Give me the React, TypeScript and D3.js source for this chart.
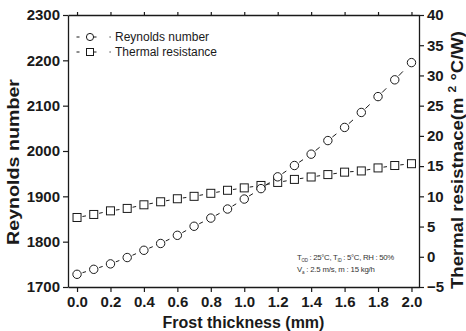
// @ts-nocheck
import React, { useEffect, useRef } from "react";
import * as d3 from "d3";

// frost thickness (mm)
const thickness = [0, 0.1, 0.2, 0.3, 0.4, 0.5, 0.6, 0.7, 0.8, 0.9, 1.0, 1.1, 1.2, 1.3, 1.4, 1.5, 1.6, 1.7, 1.8, 1.9, 2.0];
const reynolds = [1728, 1739, 1751, 1765, 1781, 1796, 1814, 1834, 1852, 1872, 1894, 1917, 1943, 1968, 1993, 2023, 2052, 2085, 2120, 2157, 2195];
const thermalRes = [6.5, 7.0, 7.6, 8.0, 8.6, 9.1, 9.6, 10.0, 10.5, 11.0, 11.4, 11.8, 12.3, 12.8, 13.2, 13.6, 14.0, 14.2, 14.7, 15.1, 15.4];

const xTicks = [0, 0.2, 0.4, 0.6, 0.8, 1.0, 1.2, 1.4, 1.6, 1.8, 2.0];
const xMinorTicks = [0.1, 0.3, 0.5, 0.7, 0.9, 1.1, 1.3, 1.5, 1.7, 1.9];
const leftTicks = [1700, 1800, 1900, 2000, 2100, 2200, 2300];
const leftMinorTicks = [1750, 1850, 1950, 2050, 2150, 2250];
const rightTicks = [-5, 0, 5, 10, 15, 20, 25, 30, 35, 40];
const rightMinorTicks = [-2.5, 2.5, 7.5, 12.5, 17.5, 22.5, 27.5, 32.5, 37.5];

const legendLabels = ["Reynolds number", "Thermal resistance"];

const FONT = "'Liberation Sans', Arial, sans-serif";
const INK = "#1a1a1a";

const Chart = () => {
  const ref = useRef(null);

  useEffect(() => {
    const svg = d3.select(ref.current);
    svg.selectAll("*").remove();

    const left = 68, right = 419, top = 15, bottom = 287;

    const x = d3.scaleLinear().domain([-0.054, 2.045]).range([left, right]);
    const yL = d3.scaleLinear().domain([1700, 2300]).range([bottom, top]);
    const yR = d3.scaleLinear().domain([-5, 40]).range([bottom, top]);

    const styleAxis = (g, size) => {
      g.select(".domain").attr("stroke", INK).attr("stroke-width", 1.3);
      g.selectAll(".tick line").attr("stroke", INK).attr("stroke-width", 1.2);
      g.selectAll(".tick text")
        .attr("fill", INK)
        .attr("font-family", FONT)
        .attr("font-weight", "bold")
        .attr("font-size", size);
    };

    // bottom axis
    const gb = svg.append("g").attr("transform", `translate(0,${bottom})`);
    gb.call(d3.axisBottom(x).tickValues(xMinorTicks).tickSize(3).tickSizeOuter(0).tickFormat(() => ""));
    gb.call(
      d3.axisBottom(x).tickValues(xTicks).tickSize(5).tickSizeOuter(0).tickPadding(4).tickFormat(d3.format(".1f"))
    );
    styleAxis(gb, 15);

    // top axis (ticks only)
    const gt = svg.append("g").attr("transform", `translate(0,${top})`);
    gt.call(d3.axisTop(x).tickValues(xMinorTicks).tickSize(2).tickSizeOuter(0).tickFormat(() => ""));
    gt.call(d3.axisTop(x).tickValues(xTicks).tickSize(3).tickSizeOuter(0).tickFormat(() => ""));
    styleAxis(gt, 15);

    // left axis
    const gl = svg.append("g").attr("transform", `translate(${left},0)`);
    gl.call(d3.axisLeft(yL).tickValues(leftMinorTicks).tickSize(3).tickSizeOuter(0).tickFormat(() => ""));
    gl.call(d3.axisLeft(yL).tickValues(leftTicks).tickSize(5).tickSizeOuter(0).tickPadding(3).tickFormat(d3.format("d")));
    styleAxis(gl, 15);

    // right axis
    const gr = svg.append("g").attr("transform", `translate(${right},0)`);
    gr.call(d3.axisRight(yR).tickValues(rightMinorTicks).tickSize(3).tickSizeOuter(0).tickFormat(() => ""));
    gr.call(d3.axisRight(yR).tickValues(rightTicks).tickSize(5).tickSizeOuter(0).tickPadding(3).tickFormat(d3.format("d")));
    styleAxis(gr, 15);

    // short dashes between neighbouring markers
    const drawDashes = (pts, r) => {
      for (let i = 0; i < pts.length - 1; i++) {
        const [x1, y1] = pts[i];
        const [x2, y2] = pts[i + 1];
        const len = Math.hypot(x2 - x1, y2 - y1);
        const gap = len - 2 * r;
        if (gap <= 2) continue;
        const dash = Math.max(2.5, Math.min(6, gap * 0.4));
        const s = r + 1.5;
        const e = Math.min(s + dash, len - r - 0.5);
        const ux = (x2 - x1) / len, uy = (y2 - y1) / len;
        svg
          .append("line")
          .attr("x1", x1 + ux * s)
          .attr("y1", y1 + uy * s)
          .attr("x2", x1 + ux * e)
          .attr("y2", y1 + uy * e)
          .attr("stroke", INK)
          .attr("stroke-width", 1);
      }
    };

    const rePts = thickness.map((t, i) => [x(t), yL(reynolds[i])]);
    const trPts = thickness.map((t, i) => [x(t), yR(thermalRes[i])]);
    drawDashes(trPts, 4);
    drawDashes(rePts, 4.2);

    svg
      .append("g")
      .selectAll("rect")
      .data(trPts)
      .join("rect")
      .attr("x", (d) => d[0] - 4)
      .attr("y", (d) => d[1] - 4)
      .attr("width", 8)
      .attr("height", 8)
      .attr("fill", "white")
      .attr("stroke", INK)
      .attr("stroke-width", 1);

    svg
      .append("g")
      .selectAll("circle")
      .data(rePts)
      .join("circle")
      .attr("cx", (d) => d[0])
      .attr("cy", (d) => d[1])
      .attr("r", 4.2)
      .attr("fill", "white")
      .attr("stroke", INK)
      .attr("stroke-width", 1);

    // legend
    const lg = svg.append("g");
    legendLabels.forEach((label, i) => {
      const cy = 37 + i * 15;
      const row = lg.append("g");
      row.append("line").attr("x1", 76.5).attr("x2", 79.5).attr("y1", cy).attr("y2", cy).attr("stroke", INK);
      row.append("line").attr("x1", 93.5).attr("x2", 96.5).attr("y1", cy).attr("y2", cy).attr("stroke", INK);
      row.append("line").attr("x1", 109.5).attr("x2", 110.7).attr("y1", cy).attr("y2", cy).attr("stroke", INK);
      if (i === 0) {
        row.append("circle").attr("cx", 90).attr("cy", cy).attr("r", 3.6).attr("fill", "white").attr("stroke", INK);
      } else {
        row.append("rect").attr("x", 86.5).attr("y", cy - 3.5).attr("width", 7).attr("height", 7).attr("fill", "white").attr("stroke", INK);
      }
      row
        .append("text")
        .attr("x", 115)
        .attr("y", cy + 4.3)
        .attr("font-family", FONT)
        .attr("font-size", 12)
        .attr("fill", INK)
        .text(label);
    });

    // axis titles
    svg
      .append("text")
      .attr("x", (left + right) / 2)
      .attr("y", 328)
      .attr("text-anchor", "middle")
      .attr("font-family", FONT)
      .attr("font-weight", "bold")
      .attr("font-size", 16)
      .attr("fill", INK)
      .text("Frost thickness (mm)");

    svg
      .append("text")
      .attr("transform", "translate(19,162) rotate(-90)")
      .attr("text-anchor", "middle")
      .attr("font-family", FONT)
      .attr("font-weight", "bold")
      .attr("font-size", 17)
      .attr("textLength", 166)
      .attr("lengthAdjust", "spacingAndGlyphs")
      .attr("fill", INK)
      .text("Reynolds number");

    const rt = svg
      .append("text")
      .attr("transform", "translate(463,160) rotate(-90)")
      .attr("text-anchor", "middle")
      .attr("font-family", FONT)
      .attr("font-weight", "bold")
      .attr("font-size", 17)
      .attr("textLength", 258)
      .attr("lengthAdjust", "spacingAndGlyphs")
      .attr("fill", INK);
    rt.append("tspan").text("Thermal resistnace(m ");
    rt.append("tspan").attr("dy", -7).attr("font-size", 11).text("2");
    rt.append("tspan").attr("dy", 7).text(" °C/W)");

    // condition note
    const note1 = svg
      .append("text")
      .attr("x", 297)
      .attr("y", 260)
      .attr("font-family", FONT)
      .attr("font-size", 7.8)
      .attr("letter-spacing", -0.3)
      .attr("fill", "#333");
    note1.append("tspan").text("T");
    note1.append("tspan").attr("dy", 2).attr("font-size", 4.5).text("OD");
    note1.append("tspan").attr("dy", -2).text(" : 25°C, T");
    note1.append("tspan").attr("dy", 2).attr("font-size", 4.5).text("ID");
    note1.append("tspan").attr("dy", -2).text(" : 5°C, RH : 50%");

    const note2 = svg
      .append("text")
      .attr("x", 297)
      .attr("y", 272)
      .attr("font-family", FONT)
      .attr("font-size", 7.8)
      .attr("letter-spacing", -0.2)
      .attr("fill", "#333");
    note2.append("tspan").text("V");
    note2.append("tspan").attr("dy", 2).attr("font-size", 4.5).text("a");
    note2.append("tspan").attr("dy", -2).text(" : 2.5 m/s, m : 15 kg/h");
  }, []);

  return (
    <svg
      ref={ref}
      width={466}
      height={331}
      style={{ position: "absolute", left: 0, top: 0, display: "block", background: "white" }}
    />
  );
};

export default function App() {
  return <Chart />;
}
